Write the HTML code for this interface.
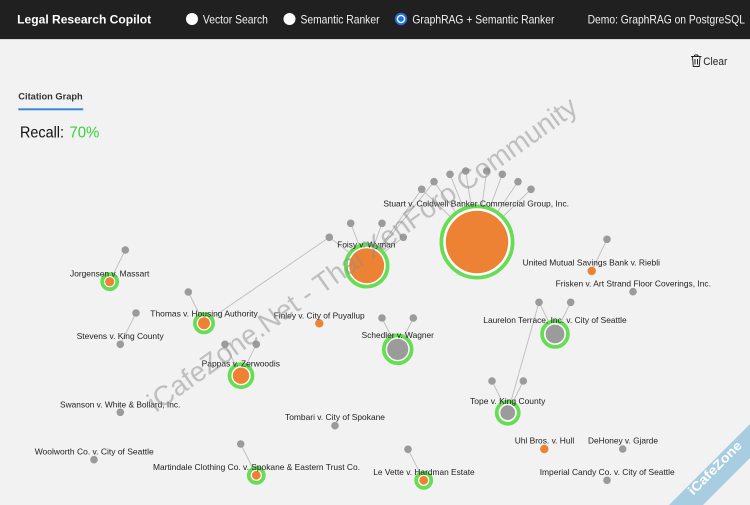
<!DOCTYPE html>
<html>
<head>
<meta charset="utf-8">
<style>
  html,body{margin:0;padding:0;background:#f2f2f2;}
  body{width:750px;height:505px;overflow:hidden;}
  svg{display:block;}
  .lbl{font-family:"Liberation Sans",Arial,sans-serif;font-size:8.5px;fill:#1e1e1e;text-anchor:middle;}
  .hdr{font-family:"Liberation Sans",Arial,sans-serif;font-size:12px;fill:#f2f2f2;}
</style>
</head>
<body>
<svg width="750" height="505" viewBox="0 0 750 505" xmlns="http://www.w3.org/2000/svg">
  <rect x="0" y="0" width="750" height="505" fill="#f2f2f2"/>
  <!-- Header -->
  <rect x="0" y="0" width="750" height="39" fill="#202020"/>
  <rect x="0" y="39" width="750" height="1" fill="#d8d8d8"/>
  <text x="17.2" y="23.3" class="hdr" style="font-weight:bold;fill:#ffffff" textLength="134" lengthAdjust="spacingAndGlyphs">Legal Research Copilot</text>
  <circle cx="192" cy="19" r="6" fill="#ffffff"/>
  <text x="202.9" y="23.3" class="hdr" textLength="65" lengthAdjust="spacingAndGlyphs">Vector Search</text>
  <circle cx="289.5" cy="19" r="6" fill="#ffffff"/>
  <text x="300.5" y="23.3" class="hdr" textLength="79" lengthAdjust="spacingAndGlyphs">Semantic Ranker</text>
  <circle cx="401" cy="19" r="6.2" fill="#1f6fe0"/>
  <circle cx="401" cy="19" r="4.3" fill="#ffffff"/>
  <circle cx="401" cy="19" r="2.9" fill="#1f6fe0"/>
  <text x="412.4" y="23.3" class="hdr" textLength="142" lengthAdjust="spacingAndGlyphs">GraphRAG + Semantic Ranker</text>
  <text x="587.6" y="23.3" class="hdr" textLength="157.4" lengthAdjust="spacingAndGlyphs">Demo: GraphRAG on PostgreSQL</text>

  <!-- Clear -->
  <g stroke="#222" stroke-width="1" fill="none">
    <line x1="691" y1="56.5" x2="701.5" y2="56.5"/>
    <line x1="694.5" y1="56.5" x2="694.5" y2="55"/>
    <line x1="694.5" y1="55" x2="698" y2="55"/>
    <line x1="698" y1="55" x2="698" y2="56.5"/>
    <path d="M692.5 57 L693.3 66.5 L699.2 66.5 L700 57"/>
    <line x1="695" y1="59" x2="695" y2="64.5"/>
    <line x1="697.5" y1="59" x2="697.5" y2="64.5"/>
  </g>
  <text x="703.3" y="65" style="font-family:'Liberation Sans',Arial,sans-serif;font-size:11px;fill:#222" textLength="24" lengthAdjust="spacingAndGlyphs">Clear</text>

  <!-- Tab -->
  <text x="18.3" y="99.5" style="font-family:'Liberation Sans',Arial,sans-serif;font-size:9.5px;font-weight:bold;fill:#333" textLength="64.4" lengthAdjust="spacingAndGlyphs">Citation Graph</text>
  <rect x="18.3" y="108.3" width="65" height="2" fill="#3a86d6"/>

  <!-- Recall -->
  <text x="20" y="137.7" style="font-family:'Liberation Sans',Arial,sans-serif;font-size:16px;fill:#111" textLength="44" lengthAdjust="spacingAndGlyphs">Recall:</text>
  <text x="69.4" y="137.7" style="font-family:'Liberation Sans',Arial,sans-serif;font-size:16px;fill:#3ccf3c" textLength="30" lengthAdjust="spacingAndGlyphs">70%</text>

  <!-- Edges -->
  <g stroke="#bdbdbd" stroke-width="0.9">
    <!-- Stuart children -->
    <line x1="421.7" y1="189.3" x2="477" y2="242"/>
    <line x1="434" y1="181.7" x2="477" y2="242"/>
    <line x1="450" y1="174.3" x2="477" y2="242"/>
    <line x1="465.7" y1="171" x2="477" y2="242"/>
    <line x1="486.7" y1="171" x2="477" y2="242"/>
    <line x1="502.3" y1="174.3" x2="477" y2="242"/>
    <line x1="518" y1="181.7" x2="477" y2="242"/>
    <line x1="531" y1="189.3" x2="477" y2="242"/>
    <!-- shared to Foisy -->
    <line x1="421.7" y1="189.3" x2="366.7" y2="265.7"/>
    <line x1="434" y1="181.7" x2="366.7" y2="265.7"/>
    <!-- Foisy children -->
    <line x1="329.3" y1="237.3" x2="366.7" y2="265.7"/>
    <line x1="350.7" y1="223.3" x2="366.7" y2="265.7"/>
    <line x1="382" y1="223.3" x2="366.7" y2="265.7"/>
    <line x1="403.3" y1="237.3" x2="366.7" y2="265.7"/>
    <!-- Thomas -->
    <line x1="329.3" y1="237.3" x2="204" y2="323.3"/>
    <line x1="188.3" y1="292" x2="204" y2="323.3"/>
    <!-- Jorgensen -->
    <line x1="125.3" y1="250" x2="109.7" y2="281.7"/>
    <!-- Stevens -->
    <line x1="136" y1="313" x2="120.3" y2="344.3"/>
    <!-- Pappas -->
    <line x1="225" y1="344.3" x2="241" y2="375.7"/>
    <line x1="256.3" y1="344.3" x2="241" y2="375.7"/>
    <!-- Schedler -->
    <line x1="382" y1="318" x2="397.7" y2="349.3"/>
    <line x1="413.3" y1="318" x2="397.7" y2="349.3"/>
    <!-- Laurelon -->
    <line x1="539" y1="302.3" x2="555" y2="334"/>
    <line x1="570.7" y1="302.3" x2="555" y2="334"/>
    <line x1="539" y1="302.3" x2="507.7" y2="412.7"/>
    <!-- Tope -->
    <line x1="492" y1="381" x2="507.7" y2="412.7"/>
    <line x1="523.3" y1="381" x2="507.7" y2="412.7"/>
    <!-- United -->
    <line x1="607" y1="239.3" x2="591.7" y2="271"/>
    <!-- Martindale -->
    <line x1="240.7" y1="444" x2="256.3" y2="475.3"/>
    <!-- Le Vette -->
    <line x1="408" y1="449.3" x2="423.7" y2="480.3"/>
  </g>

  <!-- Small gray nodes -->
  <g fill="#9b9b9b">
    <circle cx="421.7" cy="189.3" r="3.8"/>
    <circle cx="434" cy="181.7" r="3.8"/>
    <circle cx="450" cy="174.3" r="3.8"/>
    <circle cx="465.7" cy="171" r="3.8"/>
    <circle cx="486.7" cy="171" r="3.8"/>
    <circle cx="502.3" cy="174.3" r="3.8"/>
    <circle cx="518" cy="181.7" r="3.8"/>
    <circle cx="531" cy="189.3" r="3.8"/>
    <circle cx="329.3" cy="237.3" r="3.8"/>
    <circle cx="350.7" cy="223.3" r="3.8"/>
    <circle cx="382" cy="223.3" r="3.8"/>
    <circle cx="403.3" cy="237.3" r="3.8"/>
    <circle cx="188.3" cy="292" r="3.8"/>
    <circle cx="125.3" cy="250" r="3.8"/>
    <circle cx="136" cy="313" r="3.8"/>
    <circle cx="120.3" cy="344.3" r="3.8"/>
    <circle cx="225" cy="344.3" r="3.8"/>
    <circle cx="256.3" cy="344.3" r="3.8"/>
    <circle cx="382" cy="318" r="3.8"/>
    <circle cx="413.3" cy="318" r="3.8"/>
    <circle cx="539" cy="302.3" r="3.8"/>
    <circle cx="570.7" cy="302.3" r="3.8"/>
    <circle cx="492" cy="381" r="3.8"/>
    <circle cx="523.3" cy="381" r="3.8"/>
    <circle cx="607" cy="239.3" r="3.8"/>
    <circle cx="633" cy="291.7" r="3.8"/>
    <circle cx="622.7" cy="449" r="3.8"/>
    <circle cx="607" cy="480.3" r="3.8"/>
    <circle cx="120.3" cy="412.3" r="3.8"/>
    <circle cx="335" cy="425.7" r="3.8"/>
    <circle cx="94" cy="459.7" r="3.8"/>
    <circle cx="240.7" cy="444" r="3.8"/>
    <circle cx="408" cy="449.3" r="3.8"/>
  </g>
  <!-- Small orange nodes -->
  <g fill="#ee8234">
    <circle cx="319.3" cy="323.3" r="4.2"/>
    <circle cx="591.7" cy="271" r="4.2"/>
    <circle cx="544.3" cy="449" r="4.2"/>
  </g>

  <!-- Hit nodes: green ring, white gap, inner -->
  <g stroke="#66dd55" stroke-width="3.8" fill="#ffffff">
    <circle cx="477" cy="242" r="35.6"/>
    <circle cx="366.7" cy="265.7" r="20.9"/>
    <circle cx="204" cy="323.3" r="9.1"/>
    <circle cx="109.7" cy="281.7" r="7.5"/>
    <circle cx="241" cy="375.7" r="11.5"/>
    <circle cx="397.7" cy="349.3" r="13.9"/>
    <circle cx="555" cy="334" r="12.9"/>
    <circle cx="507.7" cy="412.7" r="11"/>
    <circle cx="256.3" cy="475.3" r="7.5"/>
    <circle cx="423.7" cy="480.3" r="7.5"/>
  </g>
  <g fill="#ee8234">
    <circle cx="477" cy="242" r="31.2"/>
    <circle cx="366.7" cy="265.7" r="17.5"/>
    <circle cx="204" cy="323.3" r="6"/>
    <circle cx="109.7" cy="281.7" r="4.6"/>
    <circle cx="241" cy="375.7" r="8.2"/>
    <circle cx="256.3" cy="475.3" r="4.4"/>
    <circle cx="423.7" cy="480.3" r="4.4"/>
  </g>
  <g fill="#9b9b9b">
    <circle cx="397.7" cy="349.3" r="10.6"/>
    <circle cx="555" cy="334" r="9.4"/>
    <circle cx="507.7" cy="412.7" r="7.4"/>
  </g>

  <!-- Labels -->
  <text class="lbl" x="476.2" y="206.7" textLength="185.7" lengthAdjust="spacingAndGlyphs">Stuart v. Coldwell Banker Commercial Group, Inc.</text>
  <text class="lbl" x="366.3" y="247.3" textLength="58" lengthAdjust="spacingAndGlyphs">Foisy v. Wyman</text>
  <text class="lbl" x="109.7" y="276.3" textLength="79.3" lengthAdjust="spacingAndGlyphs">Jorgensen v. Massart</text>
  <text class="lbl" x="204" y="316.3" textLength="107.4" lengthAdjust="spacingAndGlyphs">Thomas v. Housing Authority</text>
  <text class="lbl" x="120.2" y="339" textLength="87" lengthAdjust="spacingAndGlyphs">Stevens v. King County</text>
  <text class="lbl" x="240.8" y="366.7" textLength="78.3" lengthAdjust="spacingAndGlyphs">Pappas v. Zerwoodis</text>
  <text class="lbl" x="319.2" y="318.3" textLength="91" lengthAdjust="spacingAndGlyphs">Finley v. City of Puyallup</text>
  <text class="lbl" x="397.8" y="338" textLength="72.3" lengthAdjust="spacingAndGlyphs">Schedler v. Wagner</text>
  <text class="lbl" x="591.3" y="265.7" textLength="137.3" lengthAdjust="spacingAndGlyphs">United Mutual Savings Bank v. Riebli</text>
  <text class="lbl" x="633.3" y="286.3" textLength="155.3" lengthAdjust="spacingAndGlyphs">Frisken v. Art Strand Floor Coverings, Inc.</text>
  <text class="lbl" x="555" y="323" textLength="143.4" lengthAdjust="spacingAndGlyphs">Laurelon Terrace, Inc. v. City of Seattle</text>
  <text class="lbl" x="507.7" y="404" textLength="75.3" lengthAdjust="spacingAndGlyphs">Tope v. King County</text>
  <text class="lbl" x="544.5" y="443.7" textLength="59.6" lengthAdjust="spacingAndGlyphs">Uhl Bros. v. Hull</text>
  <text class="lbl" x="623" y="443.7" textLength="70" lengthAdjust="spacingAndGlyphs">DeHoney v. Gjarde</text>
  <text class="lbl" x="607.2" y="475" textLength="135" lengthAdjust="spacingAndGlyphs">Imperial Candy Co. v. City of Seattle</text>
  <text class="lbl" x="120.2" y="407.3" textLength="120.3" lengthAdjust="spacingAndGlyphs">Swanson v. White &amp; Bollard, Inc.</text>
  <text class="lbl" x="335" y="420" textLength="100" lengthAdjust="spacingAndGlyphs">Tombari v. City of Spokane</text>
  <text class="lbl" x="94.2" y="454.3" textLength="119" lengthAdjust="spacingAndGlyphs">Woolworth Co. v. City of Seattle</text>
  <text class="lbl" x="256.5" y="470" textLength="207" lengthAdjust="spacingAndGlyphs">Martindale Clothing Co. v. Spokane &amp; Eastern Trust Co.</text>
  <text class="lbl" x="424" y="475" textLength="101.4" lengthAdjust="spacingAndGlyphs">Le Vette v. Hardman Estate</text>

  <!-- Watermark -->
  <text x="0" y="0" transform="translate(156,413) rotate(-35.5)" style="font-family:'Liberation Sans',Arial,sans-serif;font-size:28px;fill:#8c8c8c;fill-opacity:0.5" textLength="520" lengthAdjust="spacingAndGlyphs">iCafeZone.Net - Thai XenForo Community</text>

  <!-- Corner ribbon -->
  <polygon points="669,505 750,424 750,458 703,505" fill="#a9cde0"/>
  <text x="0" y="0" transform="translate(718,471) rotate(-45)" style="font-family:'Liberation Sans',Arial,sans-serif;font-size:13px;font-weight:bold;fill:#ffffff;text-anchor:middle" textLength="70" lengthAdjust="spacingAndGlyphs">iCafeZone</text>
</svg>
</body>
</html>
